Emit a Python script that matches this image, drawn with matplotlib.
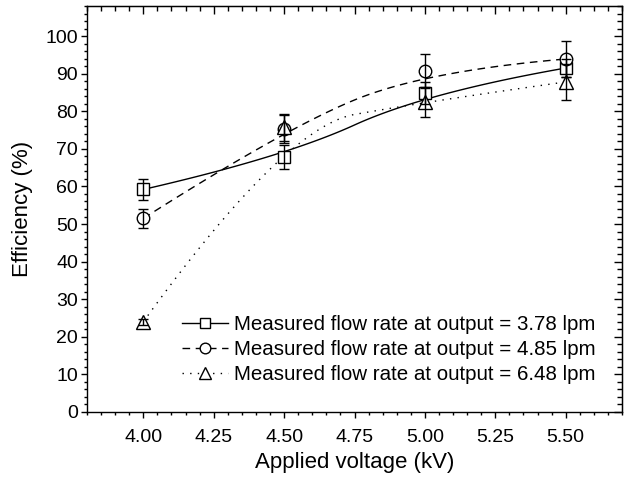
import numpy as np
import matplotlib
matplotlib.use("Agg")
import matplotlib.pyplot as plt
from matplotlib.ticker import MultipleLocator, FixedLocator
from matplotlib.lines import Line2D

plt.rcParams['font.family'] = ['Liberation Sans', 'DejaVu Sans']

voltage = [4.00, 4.50, 5.00, 5.50]
labels = ["Measured flow rate at output = 3.78 lpm",
          "Measured flow rate at output = 4.85 lpm",
          "Measured flow rate at output = 6.48 lpm"]
eff_378 = [59.2, 67.8, 84.9, 91.5]
err_378 = [2.8, 3.2, 3.0, 2.5]
eff_485 = [51.5, 75.3, 90.7, 93.9]
err_485 = [2.6, 3.8, 4.5, 4.8]
eff_648 = [24.0, 75.8, 82.5, 87.8]
err_648 = [0.8, 3.6, 4.0, 4.8]

x_ticks = [4.00, 4.25, 4.50, 4.75, 5.00, 5.25, 5.50]
y_ticks = [0, 10, 20, 30, 40, 50, 60, 70, 80, 90, 100]


def bspline2(xs, ys, n=60):
    """Quadratic clamped B-spline using the data points as control points."""
    P = np.column_stack([xs, ys]).astype(float)
    m = len(P)
    out = []
    for i in range(m - 2):
        a = P[0] if i == 0 else (P[i] + P[i + 1]) / 2
        b = P[i + 1]
        c = P[m - 1] if i == m - 3 else (P[i + 1] + P[i + 2]) / 2
        s = np.linspace(0, 1, n)[:, None]
        seg = (1 - s) ** 2 * a + 2 * s * (1 - s) * b + s ** 2 * c
        out.append(seg if i == 0 else seg[1:])
    pts = np.vstack(out)
    return pts[:, 0], pts[:, 1]


fig = plt.figure(figsize=(6.26, 4.79), dpi=100)
ax = fig.add_axes([87 / 626, 1 - 412 / 479, (622 - 87) / 626, (412 - 6) / 479])

series = [
    (eff_378, err_378, 's', '-', (None, None)),
    (eff_485, err_485, 'o', '--', (5.5, 4)),
    (eff_648, err_648, '^', ':', (1, 4.5)),
]
handles = []
for (ys, es, mk, ls, dash), lab in zip(series, labels):
    cx, cy = bspline2(voltage, ys)
    line, = ax.plot(cx, cy, color='black', lw=1.0, linestyle=ls, zorder=2)
    if dash[0] is not None:
        line.set_dashes(dash)
    ms = 9 if mk != '^' else 10
    ax.plot(voltage, ys, linestyle='none', marker=mk, ms=ms,
            mfc='white', mec='black', mew=1.0, zorder=3)
    ax.errorbar(voltage, ys, yerr=es, fmt='none', ecolor='black', elinewidth=1.0,
                capsize=3.6, capthick=1.0, zorder=4)
    h = Line2D([], [], color='black', lw=1.0, linestyle=ls, marker=mk,
               ms=ms * 0.85, mfc='white', mec='black', mew=1.0)
    if dash[0] is not None:
        h.set_dashes(dash)
    handles.append(h)

ax.set_xlim(3.8, 5.7)
ax.set_ylim(0, 108)
ax.xaxis.set_major_locator(FixedLocator(x_ticks))
ax.set_xticklabels([f"{v:.2f}" for v in x_ticks])
ax.xaxis.set_minor_locator(MultipleLocator(0.05))
ax.yaxis.set_major_locator(FixedLocator(y_ticks))
ax.yaxis.set_minor_locator(MultipleLocator(2))
ax.tick_params(which='major', direction='out', length=4.5, width=1.0, labelsize=14)
ax.tick_params(axis='x', which='major', pad=8)
ax.tick_params(axis='y', which='major', pad=2)
ax.tick_params(which='minor', direction='out', length=2.3, width=1.0)
for sp in ax.spines.values():
    sp.set_linewidth(1.0)

top = ax.secondary_xaxis('top')
top.xaxis.set_major_locator(FixedLocator(x_ticks))
top.xaxis.set_minor_locator(MultipleLocator(0.05))
top.tick_params(which='major', direction='in', length=5.5, width=1.0, labeltop=False)
top.tick_params(which='minor', direction='in', length=3.5, width=1.0)
right = ax.secondary_yaxis('right')
right.yaxis.set_major_locator(FixedLocator(y_ticks))
right.yaxis.set_minor_locator(MultipleLocator(2))
right.tick_params(which='major', direction='in', length=5.5, width=1.0, labelright=False)
right.tick_params(which='minor', direction='in', length=3.5, width=1.0)

ax.set_xlabel("Applied voltage (kV)", fontsize=16, labelpad=4)
ax.set_ylabel("Efficiency (%)", fontsize=16, labelpad=9)

ax.legend(handles, labels, loc='upper left',
          bbox_to_anchor=((182 - 87) / 535, (412 - 314.7) / 406),
          frameon=False, fontsize=14.8, handlelength=2.23, handletextpad=0.29,
          labelspacing=0.31, borderpad=0, borderaxespad=0, numpoints=1)

fig.savefig("out.png", dpi=100)
